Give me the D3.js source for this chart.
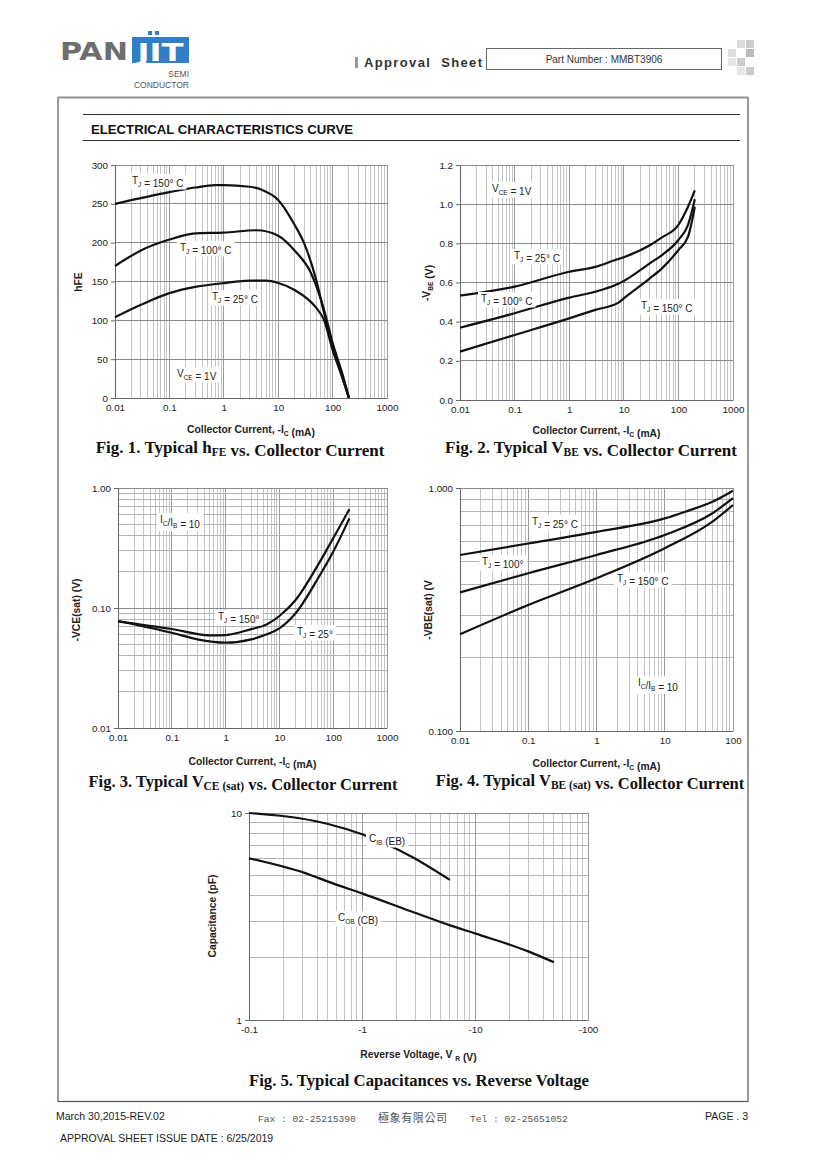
<!DOCTYPE html>
<html><head><meta charset="utf-8">
<script src="https://cdn.jsdelivr.net/npm/d3@7"></script>
<style>
body{margin:0;background:#fff}
svg{display:block}
text{font-family:"Liberation Sans",Arial,sans-serif}
</style>
</head><body>
<svg id="s" width="820" height="1161"></svg>
<script>
// ---------------- DATA ----------------
// Fig 1: hFE vs Ic (mA)
const hfe150 = [[0.01,250],[0.1,265],[0.3,271],[0.7,274],[1,274],[3,272],[5,268],[10,255],[20,223],[30,199],[50,152],[70,109],[100,66],[150,27],[200,0]];
const hfe100 = [[0.01,170],[0.03,190],[0.1,204],[0.3,212],[1,213],[4,216],[10,209],[20,190],[40,161],[70,113],[100,71],[150,32],[200,0]];
const hfe25  = [[0.01,104],[0.03,120],[0.1,135],[0.3,143],[1,148],[3,151],[6,151],[10,148],[20,139],[50,116],[70,100],[100,62],[150,27],[200,0]];
const hfeTicks = [0,50,100,150,200,250,300];
// Fig 2: -VBE vs Ic
const vbe25  = [[0.01,0.533],[0.1,0.579],[1,0.655],[3,0.68],[7,0.715],[10,0.729],[30,0.79],[50,0.83],[100,0.894],[150,0.987],[200,1.07]];
const vbe100 = [[0.01,0.369],[0.1,0.443],[1,0.523],[3,0.553],[7,0.587],[10,0.608],[30,0.698],[50,0.74],[100,0.817],[150,0.894],[200,1.025]];
const vbe150 = [[0.01,0.247],[0.1,0.332],[1,0.417],[3,0.46],[8,0.497],[10,0.519],[30,0.621],[50,0.672],[100,0.766],[150,0.834],[200,0.987]];
const vbeTicks = [0,0.2,0.4,0.6,0.8,1.0,1.2];
// Fig 3: -VCE(sat) vs Ic
const vce150 = [[0.01,0.0775],[0.1,0.0668],[0.5,0.0592],[1,0.0595],[3,0.0667],[6,0.0735],[10,0.0858],[20,0.1166],[50,0.221],[100,0.381],[200,0.665]];
const vce25  = [[0.01,0.078],[0.1,0.0622],[0.3,0.0548],[1,0.0514],[3,0.0548],[6,0.0607],[10,0.0677],[20,0.0903],[50,0.171],[100,0.294],[200,0.558]];
const vceTicks = [0.01,0.1,1];
const vceTickLabels = ["0.01","0.10","1.00"];
// Fig 4: -VBE(sat) vs Ic
const vbs25  = [[0.01,0.530],[0.1,0.591],[1,0.660],[10,0.750],[20,0.799],[50,0.878],[100,0.975]];
const vbs100 = [[0.01,0.372],[0.1,0.446],[1,0.530],[10,0.641],[50,0.787],[100,0.908]];
const vbs150 = [[0.01,0.250],[0.1,0.330],[1,0.425],[10,0.565],[50,0.727],[100,0.851]];
const vbsTicks = [0.1,1];
const vbsTickLabels = ["0.100","1.000"];
// Fig 5: Capacitance vs reverse voltage (|V|)
const cib = [[0.1,10.0],[0.28,9.43],[0.5,8.85],[1,7.89],[2.75,6.15],[6,4.75]];
const cob = [[0.1,6.04],[0.35,5.02],[0.5,4.66],[1,4.09],[2.75,3.34],[6.2,2.85],[10,2.62],[30,2.14],[50,1.90]];
const capTicks = [1,10];
const capTickLabels = ["1","10"];
const vrTicks = [0.1,1,10,100];
const vrTickLabels = ["-0.1","-1","-10","-100"];
const icTicks = [0.01,0.1,1,10,100,1000];
const icTickLabels = ["0.01","0.1","1","10","100","1000"];
const icTicks4 = [0.01,0.1,1,10,100];
const icTickLabels4 = ["0.01","0.1","1","10","100"];

// ---------------- PAGE ----------------
const svg = d3.select("#s");

// Logo
svg.append("text").attr("x",60).attr("y",60).attr("font-size",25).attr("font-weight","bold")
  .attr("fill","#6d6e70").attr("textLength",68).attr("lengthAdjust","spacingAndGlyphs")
  .style("font-family","'DejaVu Sans',sans-serif").text("PAN");
svg.append("rect").attr("x",132).attr("y",37).attr("width",57).attr("height",26).attr("fill","#2f7ec6");
svg.append("text").attr("x",160.5).attr("y",61).attr("text-anchor","middle").attr("font-size",25).attr("font-weight","bold")
  .attr("fill","#fff").attr("textLength",46).attr("lengthAdjust","spacingAndGlyphs")
  .style("font-family","'DejaVu Sans',sans-serif").text("JIT");
svg.append("rect").attr("x",148).attr("y",31).attr("width",4).attr("height",4).attr("fill","#2f7ec6");
svg.append("rect").attr("x",155).attr("y",31).attr("width",4).attr("height",4).attr("fill","#2f7ec6");
svg.append("text").attr("x",189).attr("y",77).attr("text-anchor","end").attr("font-size",8.5).attr("fill","#555").text("SEMI");
svg.append("text").attr("x",189).attr("y",88).attr("text-anchor","end").attr("font-size",8.5).attr("fill","#555").text("CONDUCTOR");

// Header
svg.append("rect").attr("x",355).attr("y",57).attr("width",3).attr("height",11).attr("fill","#999");
svg.append("text").attr("x",364).attr("y",67).attr("font-size",13).attr("font-weight","bold").attr("fill","#333")
  .attr("textLength",118).attr("lengthAdjust","spacing").attr("xml:space","preserve").text("Approval  Sheet");
svg.append("rect").attr("x",486.5).attr("y",48.5).attr("width",235).attr("height",21).attr("fill","none").attr("stroke","#666");
svg.append("text").attr("x",604).attr("y",63).attr("text-anchor","middle").attr("font-size",10).attr("fill","#333").text("Part Number : MMBT3906");
// checker
[[737,40,"#ddd"],[746,40,"#ccc"],[728,49,"#ddd"],[746,49,"#bbb"],[737,58,"#ccc"],[728,58,"#e4e4e4"],[746,67,"#ccc"],[737,67,"#e6e6e6"]]
  .forEach(([x,y,c])=>svg.append("rect").attr("x",x).attr("y",y).attr("width",8).attr("height",8).attr("fill",c));

// Frame
svg.append("rect").attr("x",58).attr("y",97.5).attr("width",690).attr("height",1004).attr("fill","none").attr("stroke","#555").attr("stroke-width",1.2);
svg.append("line").attr("x1",58).attr("x2",748).attr("y1",97.5).attr("y2",97.5).attr("stroke","#999").attr("stroke-width",2);
svg.append("line").attr("x1",83).attr("x2",740).attr("y1",114.5).attr("y2",114.5).attr("stroke","#333");
svg.append("line").attr("x1",83).attr("x2",740).attr("y1",140.5).attr("y2",140.5).attr("stroke","#333");
svg.append("text").attr("x",91).attr("y",134).attr("font-size",13).attr("font-weight","bold").attr("fill","#111")
  .attr("textLength",262).attr("lengthAdjust","spacingAndGlyphs").text("ELECTRICAL CHARACTERISTICS CURVE");

// Footer
svg.append("text").attr("x",56).attr("y",1120).attr("font-size",10.5).attr("fill","#222").text("March 30,2015-REV.02");
svg.append("text").attr("x",258).attr("y",1122).attr("font-size",9.6).attr("fill","#555").style("font-family","'Liberation Mono',monospace")
  .attr("xml:space","preserve").text("Fax : 02-25215390");
svg.append("text").attr("x",378).attr("y",1122).attr("font-size",11).attr("fill","#555").attr("letter-spacing",0.6).style("font-family","'Noto Sans CJK TC',sans-serif").text("極象有限公司");
svg.append("text").attr("x",470).attr("y",1122).attr("font-size",9.6).attr("fill","#555").style("font-family","'Liberation Mono',monospace").text("Tel : 02-25651052");
svg.append("text").attr("x",748).attr("y",1120).attr("text-anchor","end").attr("font-size",10.5).attr("fill","#222").text("PAGE . 3");
svg.append("text").attr("x",60).attr("y",1142).attr("font-size",10.5).attr("fill","#222").text("APPROVAL SHEET ISSUE DATE : 6/25/2019");

// ---------------- CHART HELPERS ----------------
function logGrid(d0,d1){
  const out=[];
  for(let e=Math.round(Math.log10(d0)); e<Math.round(Math.log10(d1)); e++){
    for(let k=1;k<10;k++) out.push({v:+(k*Math.pow(10,e)).toPrecision(3), major:k===1});
  }
  out.push({v:d1,major:true});
  return out;
}
function richText(g,x,y,parts,opts){
  const t=g.append("text").attr("x",x).attr("y",y).attr("font-size",opts.size||9)
    .attr("text-anchor",opts.anchor||"start").attr("fill",opts.fill||"#222");
  if(opts.bold) t.attr("font-weight","bold");
  if(opts.family) t.style("font-family",opts.family);
  if(opts.rotate) t.attr("transform",`rotate(-90,${x},${y})`);
  parts.forEach(p=>{
    if(typeof p==="string") t.append("tspan").text(p);
    else {
      t.append("tspan").attr("font-size",p.size||(opts.size||9)*0.65).attr("dy",p.dy||2.5).text(p.sub);
      t.append("tspan").attr("dy",-(p.dy||2.5)).text("");
    }
  });
  return t;
}
function label(g,x,y,parts,size){
  const t=richText(g,x,y,parts,{size:size||10,fill:"#222"});
  const b=t.node().getBBox();
  g.insert("rect",()=>t.node()).attr("x",b.x-3).attr("y",b.y-1).attr("width",b.width+6).attr("height",b.height+2).attr("fill","#fff");
}
function chart(cfg){
  const g=svg.append("g");
  const x=d3.scaleLog().domain(cfg.xd).range([cfg.x0,cfg.x1]);
  const y=(cfg.ylog?d3.scaleLog():d3.scaleLinear()).domain(cfg.yd).range([cfg.y1,cfg.y0]);
  // vertical grid
  logGrid(cfg.xd[0],cfg.xd[1]).forEach(d=>{
    g.append("line").attr("x1",x(d.v)).attr("x2",x(d.v)).attr("y1",cfg.y0).attr("y2",cfg.y1)
      .attr("stroke",d.major?"#9a9a9a":"#c4c4c4").attr("stroke-width",1).attr("shape-rendering","crispEdges");
  });
  // horizontal grid
  const hg = cfg.ylog ? logGrid(cfg.yd[0],cfg.yd[1]) : cfg.yticks.map(v=>({v,major:true}));
  hg.forEach(d=>{
    g.append("line").attr("x1",cfg.x0).attr("x2",cfg.x1).attr("y1",y(d.v)).attr("y2",y(d.v))
      .attr("stroke",d.major?"#8a8a8a":"#b4b4b4").attr("stroke-width",1).attr("shape-rendering","crispEdges");
  });
  // axes
  const ya=g.append("g").attr("transform",`translate(${cfg.x0},0)`)
    .call(d3.axisLeft(y).tickValues(cfg.yticks).tickSize(4).tickPadding(3).tickFormat((d,i)=>cfg.ylabels?cfg.ylabels[i]:d3.format(cfg.yfmt||"")(d)));
  const xa=g.append("g").attr("transform",`translate(0,${cfg.y1})`)
    .call(d3.axisBottom(x).tickValues(cfg.xticks).tickSize(0).tickPadding(6).tickFormat((d,i)=>cfg.xlabels[i]));
  [ya,xa].forEach(a=>{
    a.selectAll("path").attr("stroke","#666");
    a.selectAll("line").attr("stroke","#666");
    a.selectAll("text").attr("font-size",9.8).attr("fill","#222").style("font-family","'Liberation Sans',Arial,sans-serif");
  });
  // curves
  const line=d3.line().x(d=>x(d[0])).y(d=>y(d[1])).curve(d3.curveMonotoneX);
  cfg.series.forEach(s=>{
    g.append("path").datum(s).attr("d",line).attr("fill","none").attr("stroke","#111").attr("stroke-width",2.2).attr("stroke-linejoin","round");
  });
  // labels
  (cfg.labels||[]).forEach(l=>label(g,l[0],l[1],l[2]));
  // axis titles
  richText(g,(cfg.x0+cfg.x1)/2+(cfg.xtOff||0),cfg.xtY,cfg.xtitle,{size:10.3,bold:true,anchor:"middle"});
  richText(g,cfg.ytX,cfg.ytY,cfg.ytitle,{size:10.3,bold:true,anchor:"middle",rotate:true});
  // caption
  richText(g,cfg.capX,cfg.capY,cfg.caption,{size:cfg.capSize||17,bold:true,anchor:"middle",family:"'Liberation Serif','Times New Roman',serif",fill:"#111"});
}
const ic=["Collector Current, -I",{sub:"C"}," (mA)"];
const T=(s)=>["T",{sub:"J"}," = "+s];

chart({x0:115,x1:387,y0:165,y1:398,xd:[0.01,1000],yd:[0,300],yticks:hfeTicks,
  xticks:icTicks,xlabels:icTickLabels,series:[hfe150,hfe100,hfe25],
  labels:[[132,184,T("150° C")],[180,251,T("100° C")],[212,300,T("25° C")],[177,377,["V",{sub:"CE"}," = 1V"]]],
  xtitle:ic,xtY:433,ytitle:["hFE"],ytX:82,ytY:282,
  caption:["Fig. 1. Typical h",{sub:"FE",size:11.5,dy:3}," vs. Collector Current"],capX:240,capY:453});

chart({x0:460,x1:733,y0:165,y1:400,xd:[0.01,1000],yd:[0,1.2],yticks:vbeTicks,yfmt:".1f",
  xticks:icTicks,xlabels:icTickLabels,series:[vbe25,vbe100,vbe150],
  labels:[[492,192,["V",{sub:"CE"}," = 1V"]],[514,259,T("25° C")],[481,302,T("100° C")],[641,309,T("150° C")]],
  xtitle:ic,xtY:434,ytitle:["-V",{sub:"BE"}," (V)"],ytX:430,ytY:283,
  caption:["Fig. 2. Typical V",{sub:"BE",size:11.5,dy:3}," vs. Collector Current"],capX:591,capY:453});

chart({x0:118,x1:387,y0:488,y1:728,xd:[0.01,1000],yd:[0.01,1],ylog:true,yticks:vceTicks,ylabels:vceTickLabels,
  xticks:icTicks,xlabels:icTickLabels,series:[vce150,vce25],
  labels:[[160,523,["I",{sub:"C"},"/I",{sub:"B"}," = 10"]],[218,620,T("150°")],[297,635,T("25°")]],
  xtitle:ic,xtY:765,ytitle:["-VCE(sat) (V)"],ytX:80,ytY:610,capSize:16.5,
  caption:["Fig. 3. Typical V",{sub:"CE (sat)",size:11.5,dy:3}," vs. Collector Current"],capX:243,capY:787});

chart({x0:460,x1:733,y0:488,y1:731,xd:[0.01,100],yd:[0.1,1],ylog:true,yticks:vbsTicks,ylabels:vbsTickLabels,
  xticks:icTicks4,xlabels:icTickLabels4,series:[vbs25,vbs100,vbs150],
  labels:[[532,525,T("25° C")],[482,565,T("100°")],[617,582,T("150° C")],[638,686,["I",{sub:"C"},"/I",{sub:"B"}," = 10"]]],
  xtitle:ic,xtY:767,ytitle:["-VBE(sat) (V"],ytX:432,ytY:610,capSize:16.5,
  caption:["Fig. 4. Typical V",{sub:"BE (sat)",size:11.5,dy:3}," vs. Collector Current"],capX:590,capY:786});

chart({x0:249,x1:588,y0:813,y1:1020,xd:[0.1,100],yd:[1,10],ylog:true,yticks:capTicks,ylabels:capTickLabels,
  xticks:vrTicks,xlabels:vrTickLabels,series:[cib,cob],
  labels:[[369,842,["C",{sub:"IB"}," (EB)"]],[338,921,["C",{sub:"OB"}," (CB)"]]],
  xtitle:["Reverse Voltage, V ",{sub:"R"}," (V)"],xtY:1058,ytitle:["Capacitance (pF)"],ytX:216,ytY:916,capSize:16.7,
  caption:["Fig. 5. Typical Capacitances vs. Reverse Voltage"],capX:419,capY:1086});
</script>
</body></html>
